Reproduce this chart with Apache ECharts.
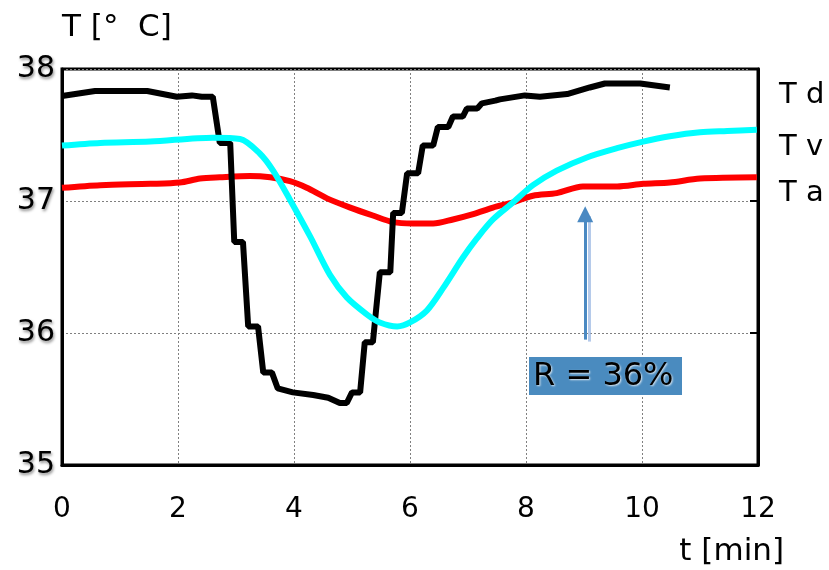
<!DOCTYPE html>
<html><head><meta charset="utf-8">
<script src="https://cdn.jsdelivr.net/npm/echarts@6/dist/echarts.min.js"></script>
<style>html,body{margin:0;padding:0;background:#fff}#c{width:829px;height:570px}</style>
</head><body><div id="c"></div>
<script>
// t [min], T [°C]
const tdData = [[0,37.795],[0.57,37.833],[1.47,37.833],[1.98,37.79],[2.24,37.80],[2.41,37.79],[2.60,37.79],
 [2.72,37.44],[2.90,37.44],[2.97,36.69],[3.12,36.69],[3.21,36.05],[3.38,36.05],[3.47,35.70],[3.62,35.70],
 [3.72,35.58],[3.98,35.55],[4.33,35.53],[4.59,35.51],[4.79,35.47],[4.91,35.47],[5.00,35.55],[5.14,35.55],
 [5.22,35.93],[5.36,35.93],[5.48,36.46],[5.66,36.46],[5.71,36.91],[5.86,36.91],[5.95,37.21],[6.14,37.21],
 [6.22,37.42],[6.40,37.42],[6.48,37.56],[6.66,37.56],[6.74,37.64],[6.91,37.64],[6.98,37.70],[7.16,37.70],
 [7.24,37.74],[7.47,37.76],[7.55,37.77],[7.98,37.80],[8.24,37.79],[8.71,37.81],[9.10,37.86],[9.36,37.89],
 [9.62,37.89],[9.97,37.89],[10.48,37.86]];
const tvData = [[0,37.42],[0.66,37.44],[1.52,37.45],[2.60,37.48],[3.07,37.47],[3.41,37.36],[3.64,37.23],
 [3.93,37.01],[4.28,36.73],[4.62,36.44],[4.91,36.27],[5.26,36.14],[5.48,36.08],[5.78,36.05],[6.00,36.08],
 [6.29,36.17],[6.57,36.34],[6.91,36.57],[7.16,36.72],[7.43,36.86],[7.78,36.99],[8.12,37.12],[8.53,37.23],
 [9.05,37.33],[9.57,37.40],[10.02,37.45],[10.48,37.49],[11.00,37.52],[11.47,37.53],[11.98,37.54]];
const taData = [[0,37.10],[0.66,37.12],[1.52,37.13],[2.03,37.14],[2.38,37.17],[2.72,37.18],[3.24,37.19],
 [3.59,37.18],[3.93,37.15],[4.22,37.10],[4.57,37.02],[4.97,36.95],[5.36,36.89],[5.71,36.84],[6.05,36.83],
 [6.40,36.83],[6.74,36.86],[7.09,36.90],[7.43,36.95],[7.78,36.99],[8.12,37.04],[8.53,37.06],[8.98,37.11],
 [9.57,37.11],[10.02,37.13],[10.48,37.14],[11.00,37.17],[11.98,37.18]];
const xTicks = [0,2,4,6,8,10,12];
const yTicks = [35,36,37,38];
const seriesNames = ['T d','T v','T a'];
const arrowT = 9.02, arrowFrom = 35.95, arrowTo = 36.9;
const noteText = 'R = 36%';

const FONT = 'DejaVu Sans';
const chart = echarts.init(document.getElementById('c'));
chart.setOption({
  animation: false,
  grid: {left: 62, right: 71, top: 69, bottom: 105, show: true, borderColor: '#000', borderWidth: 3},
  xAxis: {type: 'value', min: xTicks[0], max: xTicks[xTicks.length-1], interval: 2,
    axisLine: {show: true, lineStyle: {color: '#000', width: 3}}, axisTick: {show: false},
    axisLabel: {fontFamily: FONT, fontSize: 28, color: '#000', margin: 31},
    splitLine: {show: true, lineStyle: {color: '#808080', type: [2, 2], width: 1}}},
  yAxis: [{type: 'value', min: yTicks[0], max: yTicks[yTicks.length-1], interval: 1,
    axisLine: {show: true, lineStyle: {color: '#000', width: 3}}, axisTick: {show: false},
    axisLabel: {fontFamily: FONT, fontSize: 30, color: '#000', margin: 7,
      textShadowColor: 'rgba(0,0,0,0.45)', textShadowBlur: 3, textShadowOffsetX: 1, textShadowOffsetY: 2},
    splitLine: {show: true, lineStyle: {color: '#808080', type: [2, 2], width: 1}}},
   {type: 'value', min: yTicks[0], max: yTicks[yTicks.length-1], interval: 1, position: 'right',
    axisLine: {show: true, lineStyle: {color: '#000', width: 3}},
    axisTick: {show: true, inside: true, length: 8, lineStyle: {color: '#000', width: 2}},
    axisLabel: {show: false}, splitLine: {show: false}}],
  series: [
    {name: seriesNames[0], type: 'line', data: tdData, showSymbol: false, lineStyle: {color: '#000', width: 6}, itemStyle:{color:'#000'}, z: 3},
    {name: seriesNames[1], type: 'line', data: tvData, showSymbol: false, smooth: 0.3, lineStyle: {color: '#00ffff', width: 6}, itemStyle:{color:'#00ffff'}, z: 4},
    {name: seriesNames[2], type: 'line', data: taData, showSymbol: false, smooth: 0.3, lineStyle: {color: '#ff0000', width: 6}, itemStyle:{color:'#ff0000'}, z: 2,
      markLine: {silent: true, symbol: ['none', 'triangle'], symbolSize: 16, symbolOffset: [0, 0], label: {show: false},
        itemStyle: {color: '#4a89c2'},
        lineStyle: {color: '#4a89c2', width: 3, type: 'solid', shadowColor: 'rgba(150,180,225,0.7)', shadowOffsetX: 4, shadowOffsetY: 2},
        data: [[{coord: [arrowT, arrowFrom], symbol: 'none'}, {coord: [arrowT, arrowTo], symbol: 'triangle', symbolSize: 16}]]}}
  ]
});

// labels and annotation
const p = (t, T) => chart.convertToPixel({xAxisIndex: 0, yAxisIndex: 0}, [t, T]);
const lastTd = tdData[tdData.length-1][1], lastTv = tvData[tvData.length-1][1], lastTa = taData[taData.length-1][1];
const txt = (x, y, s, extra) => Object.assign({type: 'text', x: x, y: y,
  style: {text: s, fontFamily: FONT, fontSize: 29, fill: '#000', verticalAlign: 'middle'}}, extra || {});
const rightX = 779;
chart.setOption({graphic: [
  {type: 'text', x: 62, y: 28, style: {text: 'T [°  C]', fontFamily: FONT, fontSize: 31, fill: '#000', verticalAlign: 'middle'}},
  {type: 'text', x: 784, y: 552, style: {text: 't [min]', fontFamily: FONT, fontSize: 31, fill: '#000', verticalAlign: 'middle', align: 'right'}},
  txt(rightX, p(0, lastTd)[1] + 8, seriesNames[0]),
  txt(rightX, p(0, lastTv)[1] + 18, seriesNames[1]),
  txt(rightX, p(0, lastTa)[1] + 16, seriesNames[2]),
  {type: 'rect', shape: {x: 529, y: 357, width: 153, height: 38}, style: {fill: '#4a8bbf'}},
  {type: 'text', x: 533, y: 377, style: {text: noteText, fontFamily: FONT, fontSize: 32, fill: '#000', verticalAlign: 'middle',
    textShadowColor: 'rgba(255,255,255,0.8)', textShadowBlur: 2, textShadowOffsetX: 1, textShadowOffsetY: 1}}
]});
</script></body></html>
